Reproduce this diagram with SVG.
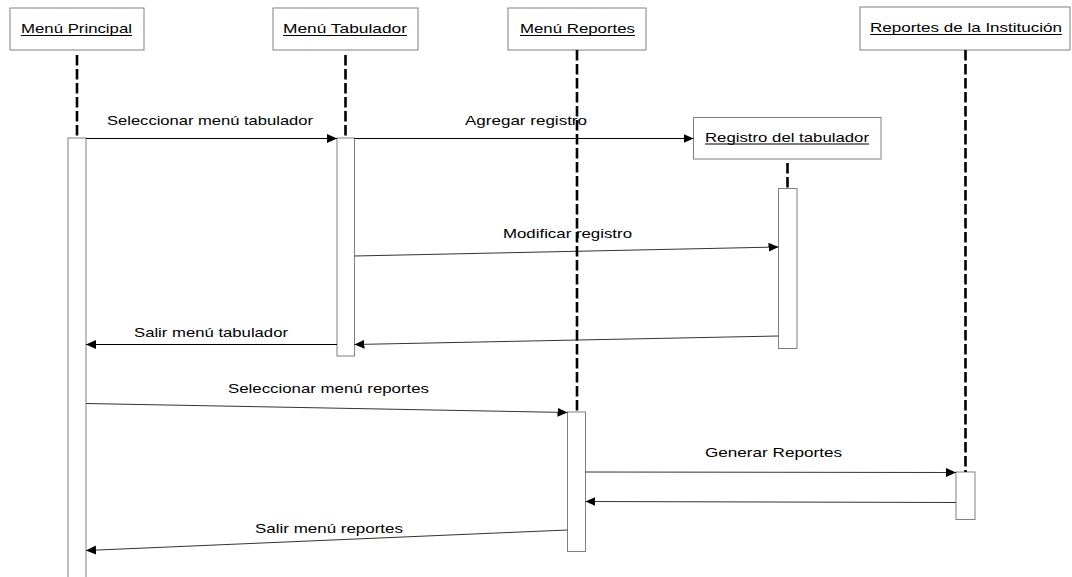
<svg xmlns="http://www.w3.org/2000/svg" width="1072" height="577" viewBox="0 0 1072 577">
  <style>
    .obj { fill: #fff; stroke: #808080; stroke-width: 1; }
    .act { fill: #fff; stroke: #808080; stroke-width: 1; }
    .life { stroke: #000; stroke-width: 2.6; stroke-dasharray: 10.5 3.5; fill: none; }
    .msg { stroke: #000; stroke-width: 1; fill: none; marker-end: url(#head); }
    .slope { stroke: #333; }
    .t { font-family: "Liberation Sans", Arial, sans-serif; font-size: 13.5px; fill: #000; }
    .ul { stroke: #000; stroke-width: 1.2; }
  </style>
  <defs>
    <marker id="head" markerUnits="userSpaceOnUse" markerWidth="12" markerHeight="10" refX="10" refY="4.5" orient="auto">
      <path d="M0,0 L10,4.5 L0,9 Z" fill="#000"/>
    </marker>
  </defs>
  <rect width="1072" height="577" fill="#fff"/>

  <!-- participants -->
  <g id="menu-principal">
    <rect class="obj" x="10" y="8" width="134" height="42"/>
    <text class="t" x="21" y="33" textLength="111" lengthAdjust="spacingAndGlyphs">Menú Principal</text>
    <line class="ul" x1="21" y1="35.5" x2="132" y2="35.5"/>
    <rect class="act" x="68" y="138" width="18" height="460"/>
  </g>
  <g id="menu-tabulador">
    <rect class="obj" x="273" y="8" width="145" height="42"/>
    <text class="t" x="283" y="33" textLength="124" lengthAdjust="spacingAndGlyphs">Menú Tabulador</text>
    <line class="ul" x1="283" y1="35.5" x2="407" y2="35.5"/>
    <rect class="act" x="337" y="138" width="17.5" height="218"/>
  </g>
  <g id="menu-reportes">
    <rect class="obj" x="508" y="8" width="138" height="42"/>
    <text class="t" x="520" y="33" textLength="115" lengthAdjust="spacingAndGlyphs">Menú Reportes</text>
    <line class="ul" x1="520" y1="35.5" x2="635" y2="35.5"/>
    <rect class="act" x="567.5" y="412" width="18" height="139.5"/>
  </g>
  <g id="reportes-institucion">
    <rect class="obj" x="860" y="7" width="210" height="43"/>
    <text class="t" x="870" y="32" textLength="192" lengthAdjust="spacingAndGlyphs">Reportes de la Institución</text>
    <line class="ul" x1="870" y1="34.5" x2="1062" y2="34.5"/>
    <rect class="act" x="956" y="472" width="19" height="47.5"/>
  </g>
  <g id="registro-tabulador">
    <rect class="obj" x="693.5" y="117.5" width="187.5" height="41.5"/>
    <text class="t" x="705" y="141.5" textLength="164" lengthAdjust="spacingAndGlyphs">Registro del tabulador</text>
    <line class="ul" x1="705" y1="144" x2="869" y2="144"/>
    <rect class="act" x="778.5" y="188.5" width="18.5" height="160"/>
  </g>

  <!-- messages -->
  <g id="connectors">
    <line class="msg" x1="86" y1="138.5" x2="337" y2="138.5"/>
    <line class="msg" x1="354.5" y1="138.5" x2="693.5" y2="138.5"/>
    <line class="msg slope" x1="354.5" y1="256" x2="778.5" y2="247"/>
    <line class="msg" x1="337" y1="344.5" x2="86" y2="344.5"/>
    <line class="msg slope" x1="778.5" y1="336" x2="354.5" y2="344.5"/>
    <line class="msg slope" x1="86" y1="403.5" x2="567.5" y2="412.5"/>
    <line class="msg slope" x1="585.5" y1="472" x2="956" y2="472.5"/>
    <line class="msg slope" x1="956" y1="502.5" x2="585.5" y2="501.5"/>
    <line class="msg slope" x1="567.5" y1="530" x2="86" y2="550.5"/>
  </g>

  <!-- message labels -->
  <g id="labels">
    <text class="t" x="107" y="125" textLength="206" lengthAdjust="spacingAndGlyphs">Seleccionar menú tabulador</text>
    <text class="t" x="465" y="125" textLength="122" lengthAdjust="spacingAndGlyphs">Agregar registro</text>
    <text class="t" x="503" y="238" textLength="129" lengthAdjust="spacingAndGlyphs">Modificar registro</text>
    <text class="t" x="134" y="337" textLength="154" lengthAdjust="spacingAndGlyphs">Salir menú tabulador</text>
    <text class="t" x="228" y="393" textLength="201" lengthAdjust="spacingAndGlyphs">Seleccionar menú reportes</text>
    <text class="t" x="705" y="457" textLength="137" lengthAdjust="spacingAndGlyphs">Generar Reportes</text>
    <text class="t" x="255" y="533" textLength="148" lengthAdjust="spacingAndGlyphs">Salir menú reportes</text>
  </g>

  <!-- lifelines -->
  <g id="lifelines">
    <line class="life" x1="77" y1="55" x2="77" y2="138"/>
    <line class="life" x1="345.5" y1="55" x2="345.5" y2="138"/>
    <line class="life" x1="577" y1="50" x2="577" y2="412"/>
    <line class="life" x1="965.5" y1="50" x2="965.5" y2="472"/>
    <line class="life" x1="787.5" y1="163" x2="787.5" y2="188.5"/>
  </g>
</svg>
